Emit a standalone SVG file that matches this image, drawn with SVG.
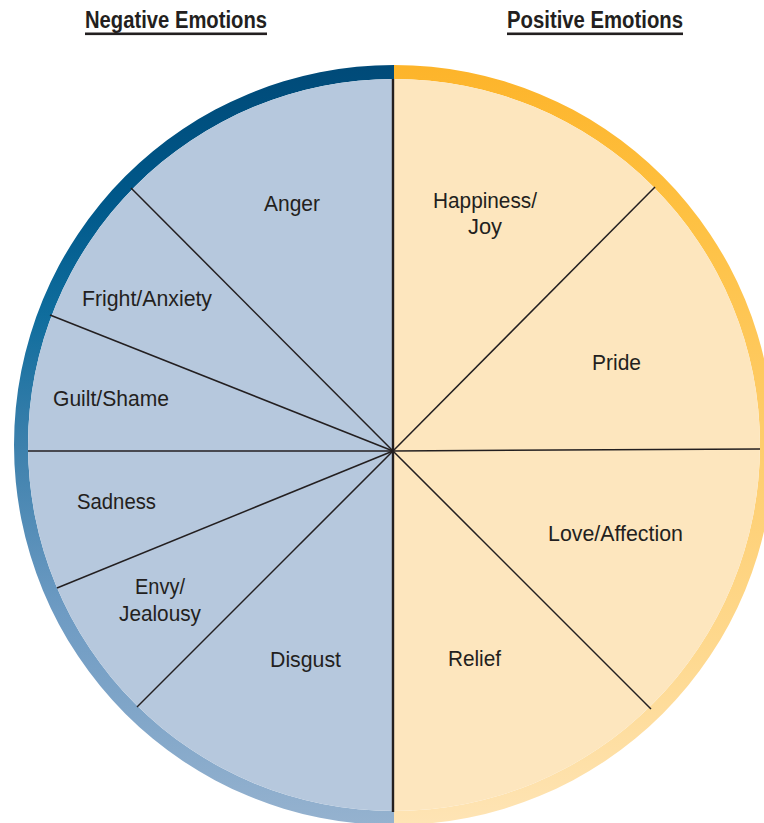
<svg xmlns="http://www.w3.org/2000/svg" width="764" height="823" viewBox="0 0 764 823">
  <defs>
    <linearGradient id="ringNeg" gradientUnits="userSpaceOnUse" x1="0" y1="64" x2="0" y2="825">
      <stop offset="0" stop-color="#004A78"/>
      <stop offset="0.18" stop-color="#00588A"/>
      <stop offset="0.33" stop-color="#0F6D9D"/>
      <stop offset="0.5" stop-color="#3C80AC"/>
      <stop offset="0.72" stop-color="#6E9BC3"/>
      <stop offset="1" stop-color="#95B2CF"/>
    </linearGradient>
    <linearGradient id="ringPos" gradientUnits="userSpaceOnUse" x1="0" y1="64" x2="0" y2="825">
      <stop offset="0" stop-color="#FDB42A"/>
      <stop offset="0.2" stop-color="#FEC142"/>
      <stop offset="0.5" stop-color="#FECD6C"/>
      <stop offset="0.78" stop-color="#FED990"/>
      <stop offset="1" stop-color="#FEE4B5"/>
    </linearGradient>
    <style>
      .spoke { stroke: #231F20; stroke-width: 1.5; fill: none; }
      .axis { stroke: #231F20; stroke-width: 2.4; fill: none; }
      .label { font-family: "Liberation Sans Narrow", "Liberation Sans", Arial, sans-serif; font-size: 22px; fill: #231F20; text-anchor: middle; }
      .head { font-family: "Liberation Sans Narrow", "Liberation Sans", Arial, sans-serif; font-size: 23px; font-weight: bold; fill: #231F20; }
    </style>
  </defs>

  <!-- column headings -->
  <g id="heading-negative">
    <text class="head" x="85" y="28" textLength="182" lengthAdjust="spacingAndGlyphs">Negative Emotions</text>
    <rect x="85" y="32.5" width="182" height="2.6" fill="#231F20"/>
  </g>
  <g id="heading-positive">
    <text class="head" x="507" y="28" textLength="176" lengthAdjust="spacingAndGlyphs">Positive Emotions</text>
    <rect x="507" y="32.5" width="176" height="2.6" fill="#231F20"/>
  </g>

  <!-- wheel: outer ring and two half discs -->
  <g id="wheel">
    <path d="M394 65 A380 380 0 0 0 394 825 L394 811 A366 366 0 0 1 394 79 Z" fill="url(#ringNeg)"/>
    <path d="M394 65 A380 380 0 0 1 394 825 L394 811 A366 366 0 0 0 394 79 Z" fill="url(#ringPos)"/>
    <path d="M394 79 A366 366 0 0 0 394 811 Z" fill="#B6C8DD"/>
    <path d="M394 79 A366 366 0 0 1 394 811 Z" fill="#FDE6BE"/>
  </g>

  <!-- segment dividers -->
  <g id="connectors">
    <line class="axis" x1="393" y1="79" x2="393" y2="812"/>
    <line class="spoke" x1="393" y1="451" x2="131" y2="188"/>
    <line class="spoke" x1="393" y1="451" x2="50" y2="315"/>
    <line class="spoke" x1="393" y1="451" x2="28" y2="451"/>
    <line class="spoke" x1="393" y1="451" x2="57" y2="588"/>
    <line class="spoke" x1="393" y1="451" x2="137" y2="707"/>
    <line class="spoke" x1="393" y1="451" x2="655" y2="187"/>
    <line class="spoke" x1="393" y1="451" x2="760" y2="449"/>
    <line class="spoke" x1="393" y1="451" x2="651" y2="709"/>
  </g>

  <!-- negative segments -->
  <g id="anger"><text class="label" x="292" y="211" textLength="56" lengthAdjust="spacingAndGlyphs">Anger</text></g>
  <g id="fright-anxiety"><text class="label" x="147" y="306" textLength="130" lengthAdjust="spacingAndGlyphs">Fright/Anxiety</text></g>
  <g id="guilt-shame"><text class="label" x="111" y="406" textLength="116" lengthAdjust="spacingAndGlyphs">Guilt/Shame</text></g>
  <g id="sadness"><text class="label" x="116.5" y="509" textLength="79" lengthAdjust="spacingAndGlyphs">Sadness</text></g>
  <g id="envy-jealousy">
    <text class="label" x="160" y="594" textLength="50" lengthAdjust="spacingAndGlyphs">Envy/</text>
    <text class="label" x="160" y="621" textLength="82" lengthAdjust="spacingAndGlyphs">Jealousy</text>
  </g>
  <g id="disgust"><text class="label" x="305.5" y="667" textLength="71" lengthAdjust="spacingAndGlyphs">Disgust</text></g>

  <!-- positive segments -->
  <g id="happiness-joy">
    <text class="label" x="485" y="208" textLength="104" lengthAdjust="spacingAndGlyphs">Happiness/</text>
    <text class="label" x="485" y="234" textLength="34" lengthAdjust="spacingAndGlyphs">Joy</text>
  </g>
  <g id="pride"><text class="label" x="616.5" y="370" textLength="49" lengthAdjust="spacingAndGlyphs">Pride</text></g>
  <g id="love-affection"><text class="label" x="615.5" y="541" textLength="135" lengthAdjust="spacingAndGlyphs">Love/Affection</text></g>
  <g id="relief"><text class="label" x="474.5" y="666" textLength="53" lengthAdjust="spacingAndGlyphs">Relief</text></g>
</svg>
